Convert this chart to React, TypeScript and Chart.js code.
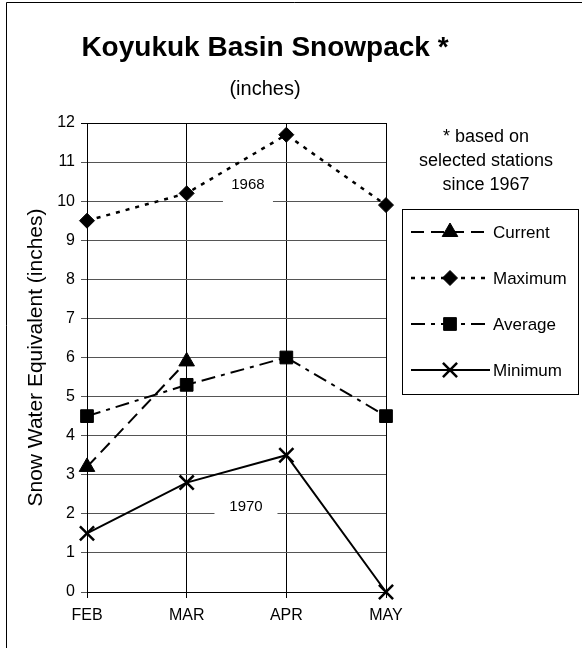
import React, { useEffect, useRef } from 'react';
import { Chart, registerables, PointElement } from 'chart.js';

Chart.register(...registerables);

// ---------- data ----------
const months = ['FEB', 'MAR', 'APR', 'MAY'];
const currentSWE: (number | null)[] = [3.2, 5.9, null, null];
const maximumSWE = [9.5, 10.2, 11.7, 9.9];
const averageSWE = [4.5, 5.3, 6.0, 4.5];
const minimumSWE = [1.5, 2.8, 3.5, 0];
const seriesNames = ['Current', 'Maximum', 'Average', 'Minimum'];
const yMin = 0;
const yMax = 12;
const yStep = 1;
const titleText = 'Koyukuk Basin Snowpack *';
const subtitleText = '(inches)';
const yAxisTitle = 'Snow Water Equivalent (inches)';
const noteLines = ['* based on', 'selected stations', 'since 1967'];
const yearLabels = ['1968', '1970'];
const yearLabelX = [1.615, 1.595];
const yearLabelY = [10.42, 2.18];

const FONT = '"Liberation Sans", Arial, sans-serif';

const overlayPlugin = {
  id: 'overlay',
  beforeDraw(chart: any) {
    const ctx = chart.ctx;
    ctx.save();
    ctx.fillStyle = '#fff';
    ctx.fillRect(0, 0, chart.width, chart.height);
    ctx.restore();
  },
  beforeDatasetsDraw(chart: any) {
    const ctx = chart.ctx;
    const xs = chart.scales.x;
    const ys = chart.scales.y;
    const boxW = [50, 63];
    ctx.save();
    ctx.font = `15px ${FONT}`;
    ctx.textAlign = 'center';
    ctx.textBaseline = 'middle';
    yearLabels.forEach((t, i) => {
      const cx = xs.left + (yearLabelX[i] / (months.length - 1)) * xs.width;
      const cy = ys.getPixelForValue(yearLabelY[i]);
      ctx.fillStyle = '#fff';
      ctx.fillRect(cx - boxW[i] / 2, cy - 18, boxW[i], 38);
      ctx.fillStyle = '#000';
      ctx.fillText(t, cx, cy);
    });
    ctx.restore();
  },
  afterDraw(chart: any) {
    const ctx = chart.ctx;
    ctx.save();
    // frame
    ctx.strokeStyle = '#000';
    ctx.lineWidth = 1;
    ctx.setLineDash([]);
    ctx.beginPath();
    ctx.moveTo(6.5, chart.height);
    ctx.lineTo(6.5, 2.5);
    ctx.lineTo(chart.width, 2.5);
    ctx.stroke();
    // title
    ctx.fillStyle = '#000';
    ctx.textAlign = 'center';
    ctx.textBaseline = 'alphabetic';
    ctx.font = `bold 28px ${FONT}`;
    ctx.fillText(titleText, 265, 56);
    ctx.font = `20px ${FONT}`;
    ctx.fillText(subtitleText, 265, 95);
    // notes
    ctx.font = `18px ${FONT}`;
    const noteY = [142, 166, 190];
    noteLines.forEach((l, i) => ctx.fillText(l, 486, noteY[i]));
    // legend
    ctx.strokeRect(402.5, 209.5, 176, 185);
    const entryY = [232, 278, 324, 370];
    chart.data.datasets.forEach((ds: any, i: number) => {
      const y = entryY[i];
      ctx.save();
      ctx.strokeStyle = '#000';
      ctx.lineWidth = ds.borderWidth;
      ctx.setLineDash(ds.borderDash || []);
      ctx.beginPath();
      ctx.moveTo(411, y);
      ctx.lineTo(490, y);
      ctx.stroke();
      ctx.restore();
      const meta = chart.getDatasetMeta(i);
      const ref = meta.data.find((p: any) => !p.skip) || meta.data[0];
      const pt: any = new PointElement({});
      pt.x = 450;
      pt.y = y;
      pt.options = ref.options;
      ctx.save();
      ctx.setLineDash([]);
      pt.draw(ctx);
      ctx.restore();
      ctx.fillStyle = '#000';
      ctx.textAlign = 'left';
      ctx.textBaseline = 'middle';
      ctx.font = `17px ${FONT}`;
      ctx.fillText(seriesNames[i], 493, y + 1);
    });
    ctx.restore();
  },
};

export default function App() {
  const ref = useRef<HTMLCanvasElement | null>(null);
  useEffect(() => {
    const prevMargin = document.body.style.margin;
    document.body.style.margin = '0';
    const canvas = ref.current!;
    Chart.defaults.font.family = FONT;
    const common = {
      borderColor: '#000',
      backgroundColor: '#000',
      pointBackgroundColor: '#000',
      pointBorderColor: '#000',
      borderWidth: 2,
      fill: false,
      tension: 0,
      clip: false as any,
      spanGaps: false,
    };
    const chart = new Chart(canvas, {
      type: 'line',
      data: {
        labels: months,
        datasets: [
          { ...common, label: seriesNames[0], data: currentSWE, borderDash: [13, 7], pointStyle: 'triangle', pointRadius: 9, pointBorderWidth: 1 },
          { ...common, label: seriesNames[1], data: maximumSWE, borderDash: [4, 6], borderWidth: 2.5, pointStyle: 'rectRot', pointRadius: 7.5, pointBorderWidth: 1 },
          { ...common, label: seriesNames[2], data: averageSWE, borderDash: [14, 6, 4, 6], pointStyle: 'rect', pointRadius: 9, pointBorderWidth: 1 },
          { ...common, label: seriesNames[3], data: minimumSWE, pointStyle: 'crossRot', pointRadius: 10, pointBorderWidth: 2.5 },
        ] as any,
      },
      options: {
        animation: false,
        responsive: false,
        maintainAspectRatio: false,
        events: [],
        layout: { padding: { left: 0, right: 196, top: 123, bottom: 0 } },
        plugins: {
          legend: { display: false },
          title: { display: false },
          tooltip: { enabled: false },
        },
        scales: {
          x: {
            type: 'category',
            offset: false,
            grid: { color: '#000', lineWidth: 1, tickLength: 6, drawTicks: true },
            border: { color: '#000', width: 1 },
            ticks: { color: '#000', font: { size: 16, family: FONT }, padding: 8, maxRotation: 0, autoSkip: false },
            afterFit: (s: any) => { s.height = 56; },
          },
          y: {
            min: yMin,
            max: yMax,
            ticks: { stepSize: yStep, color: '#000', font: { size: 16, family: FONT }, padding: 6 },
            grid: {
              color: (c: any) => (c.tick && c.tick.value === yMax ? '#000' : '#555'),
              lineWidth: 1,
              tickLength: 6,
            },
            border: { color: '#000', width: 1 },
            title: { display: true, text: yAxisTitle, color: '#000', font: { size: 21, family: FONT }, padding: { top: 24, bottom: 0 } },
            afterFit: (s: any) => { s.width = 87; },
          },
        },
      } as any,
      plugins: [overlayPlugin],
    });
    return () => {
      chart.destroy();
      document.body.style.margin = prevMargin;
    };
  }, []);
  return (
    <div style={{ position: 'absolute', left: 0, top: 0, width: 582, height: 648, background: '#fff' }}>
      <canvas ref={ref} width={582} height={648} style={{ display: 'block', width: 582, height: 648 }} />
    </div>
  );
}
